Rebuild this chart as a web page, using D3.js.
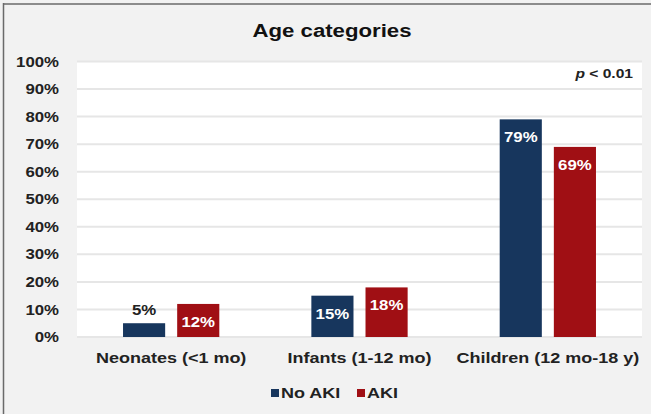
<!DOCTYPE html>
<html><head><meta charset="utf-8">
<script src="https://cdn.jsdelivr.net/npm/d3@7"></script>
<style>body{margin:0;background:#f2f2f2;}svg{display:block;font-family:"Liberation Sans",Arial,sans-serif;}</style>
</head><body>
<script>
const categories = ["Neonates (<1 mo)", "Infants (1-12 mo)", "Children (12 mo-18 y)"];
const seriesNames = ["No AKI", "AKI"];
const noAKI = [5, 15, 79];
const aki = [12, 18, 69];
const yTicks = [0,10,20,30,40,50,60,70,80,90,100];
const colors = ["#17365d", "#a00f14"];

const W = 651, H = 414, SX = 1.2;
const svg = d3.select("body").append("svg").attr("width", W).attr("height", H);
svg.append("rect").attr("width", W).attr("height", H).attr("fill", "#f2f2f2");
svg.append("line").attr("x1",3).attr("x2",W).attr("y1",4).attr("y2",4).attr("stroke","#6a6a6a").attr("stroke-width",1.5);
svg.append("line").attr("x1",3.5).attr("x2",3.5).attr("y1",3).attr("y2",H).attr("stroke","#6a6a6a").attr("stroke-width",1.5);

const tr = (x,y)=>`translate(${x},${y}) scale(${SX},1)`;

const y = d3.scaleLinear().domain([0,100]).range([337, 61.5]);
const x0 = d3.scaleBand().domain(categories).range([77, 642]);
const x1 = d3.scaleBand().domain(seriesNames).range([0, x0.bandwidth()]).paddingInner(0.222).paddingOuter(0.85);

svg.append("rect").attr("x",77).attr("y",y(100)).attr("width",565).attr("height",y(0)-y(100)).attr("fill","#fff");

svg.append("g").selectAll("line").data(yTicks).join("line")
  .attr("x1",77).attr("x2",642).attr("y1",d=>y(d)).attr("y2",d=>y(d))
  .attr("stroke","#e6e6e6").attr("stroke-width",2);

svg.append("g").selectAll("text").data(yTicks).join("text")
  .attr("transform",d=>tr(59, y(d))).attr("dy","0.36em").attr("text-anchor","end")
  .attr("font-size",14).attr("font-weight","bold").attr("fill","#222").text(d=>d+"%");

const data = categories.map((c,i)=>({cat:c, vals:[{s:"No AKI",v:noAKI[i]},{s:"AKI",v:aki[i]}]}));
const g = svg.append("g").selectAll("g").data(data).join("g").attr("transform",d=>`translate(${x0(d.cat)},0)`);
g.selectAll("rect").data(d=>d.vals).join("rect")
  .attr("x",d=>x1(d.s)).attr("width",x1.bandwidth())
  .attr("y",d=>y(d.v)).attr("height",d=>y(0)-y(d.v))
  .attr("fill",(d,i)=>colors[i]);
g.selectAll("text").data(d=>d.vals).join("text")
  .attr("transform",d=>tr(x1(d.s)+x1.bandwidth()/2, d.v<8 ? y(d.v)-8 : y(d.v)+23))
  .attr("text-anchor","middle").attr("font-size",14).attr("font-weight","bold")
  .attr("fill",d=> d.v<8 ? "#222" : "#fff").text(d=>d.v+"%");

svg.append("g").selectAll("text").data(categories).join("text")
  .attr("transform",d=>tr(x0(d)+x0.bandwidth()/2, 363)).attr("text-anchor","middle")
  .attr("font-size",15).attr("font-weight","bold").attr("fill","#222").text(d=>d);

svg.append("text").attr("transform",tr(332,37)).attr("text-anchor","middle")
  .attr("font-size",18.5).attr("font-weight","bold").attr("fill","#111").text("Age categories");

const pt = svg.append("text").attr("transform",tr(633,78)).attr("text-anchor","end")
  .attr("font-size",13).attr("font-weight","bold").attr("fill","#222");
pt.append("tspan").attr("font-style","italic").text("p");
pt.append("tspan").text(" < 0.01");

const leg = svg.append("g");
const legX = [271, 357];
seriesNames.forEach((s,i)=>{
  leg.append("rect").attr("x",legX[i]).attr("y",389).attr("width",8).attr("height",8).attr("fill",colors[i]);
  leg.append("text").attr("transform",tr(legX[i]+10,398)).attr("font-size",15).attr("font-weight","bold").attr("fill","#222").text(s);
});
</script>
</body></html>
